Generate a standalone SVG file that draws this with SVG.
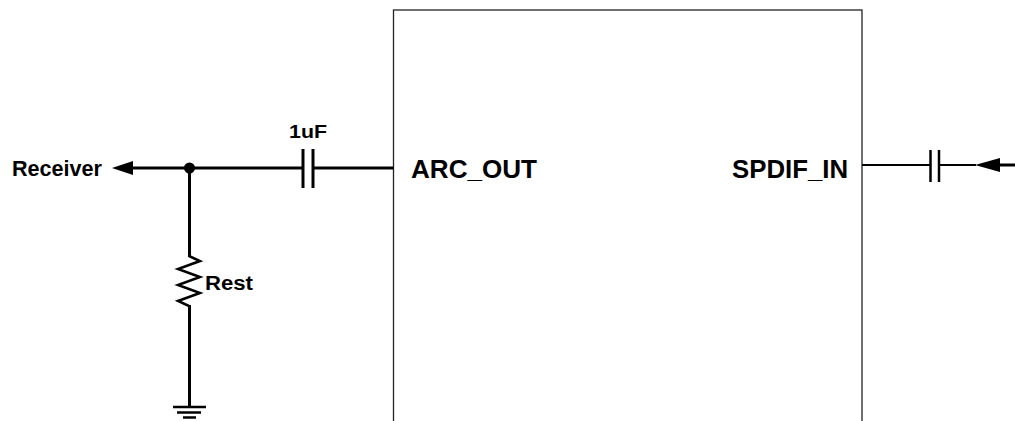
<svg xmlns="http://www.w3.org/2000/svg" width="1015" height="421" viewBox="0 0 1015 421">
<style>
.lbl{font-family:"Liberation Sans",Arial,sans-serif;font-weight:bold;fill:#000}
.w{stroke:#000;fill:none;stroke-linecap:butt}
</style>
<rect x="0" y="0" width="1015" height="421" fill="#fff"/>
<g id="ic">
<rect x="393.5" y="10" width="468.5" height="430" fill="#fff" stroke="#222" stroke-width="1.3"/>
<text class="lbl" x="411" y="178" font-size="25" textLength="126" lengthAdjust="spacingAndGlyphs">ARC_OUT</text>
<text class="lbl" x="732" y="178" font-size="25" textLength="116" lengthAdjust="spacingAndGlyphs">SPDIF_IN</text>
</g>
<g id="receiver">
<text class="lbl" x="12" y="176" font-size="22" textLength="90" lengthAdjust="spacingAndGlyphs">Receiver</text>
</g>
<g id="c1">
<line class="w" x1="303" y1="149" x2="303" y2="188" stroke-width="3"/>
<line class="w" x1="313" y1="149" x2="313" y2="188" stroke-width="3"/>
<text class="lbl" x="289" y="138" font-size="18" textLength="38" lengthAdjust="spacingAndGlyphs">1uF</text>
</g>
<g id="rest">
<polyline class="w" stroke-width="2.5" stroke-linejoin="miter" points="189,256 200,261 178,269 200,277 178,285 200,293 178,301 189,306"/>
<text class="lbl" x="205" y="290" font-size="20" textLength="48" lengthAdjust="spacingAndGlyphs">Rest</text>
</g>
<g id="gnd">
<line class="w" x1="173" y1="407" x2="206" y2="407" stroke-width="2.5"/>
<line class="w" x1="177" y1="412.5" x2="201" y2="412.5" stroke-width="2.5"/>
<line class="w" x1="183" y1="417.5" x2="196" y2="417.5" stroke-width="2.5"/>
</g>
<g id="c2">
<line class="w" x1="930.5" y1="150" x2="930.5" y2="182" stroke-width="2.5"/>
<line class="w" x1="939" y1="150" x2="939" y2="182" stroke-width="2.5"/>
</g>
<g id="connectors">
<line class="w" x1="132" y1="168" x2="303" y2="168" stroke-width="3"/>
<line class="w" x1="313" y1="168" x2="393.5" y2="168" stroke-width="3"/>
<polygon points="112,168 133,161 133,175" fill="#000"/>
<circle cx="189.5" cy="168" r="5.5" fill="#000"/>
<line class="w" x1="189.5" y1="168" x2="189.5" y2="257" stroke-width="3"/>
<line class="w" x1="189.5" y1="305" x2="189.5" y2="407" stroke-width="3"/>
<line class="w" x1="862" y1="165" x2="930.5" y2="165" stroke-width="2"/>
<line class="w" x1="939" y1="165" x2="976" y2="165" stroke-width="2"/>
<polygon points="975,165 1000,158 1000,172" fill="#000"/>
<line class="w" x1="998" y1="165" x2="1015" y2="165" stroke-width="3"/>
</g>
</svg>
